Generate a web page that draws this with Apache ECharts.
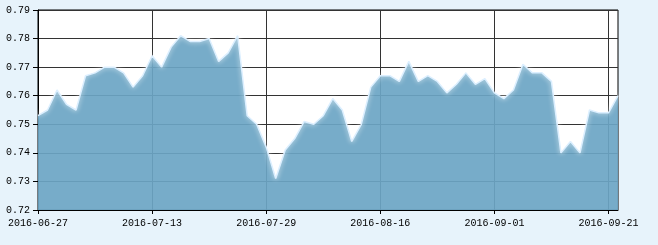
<!DOCTYPE html>
<html>
<head>
<meta charset="utf-8">
<script src="https://cdn.jsdelivr.net/npm/echarts@6/dist/echarts.min.js"></script>
<style>
html,body{margin:0;padding:0;background:#e7f3fb;}
#chart{width:658px;height:245px;}
</style>
</head>
<body>
<div id="chart"></div>
<script>
const dates = [
 '2016-06-27','2016-06-28','2016-06-29','2016-06-30','2016-07-01','2016-07-04','2016-07-05','2016-07-06','2016-07-07','2016-07-08',
 '2016-07-11','2016-07-12','2016-07-13','2016-07-14','2016-07-15','2016-07-18','2016-07-19','2016-07-20','2016-07-21','2016-07-22',
 '2016-07-25','2016-07-26','2016-07-27','2016-07-28','2016-07-29','2016-08-01','2016-08-02','2016-08-03','2016-08-04','2016-08-05',
 '2016-08-08','2016-08-09','2016-08-10','2016-08-11','2016-08-12','2016-08-15','2016-08-16','2016-08-17','2016-08-18','2016-08-19',
 '2016-08-22','2016-08-23','2016-08-24','2016-08-25','2016-08-26','2016-08-29','2016-08-30','2016-08-31','2016-09-01','2016-09-02',
 '2016-09-05','2016-09-06','2016-09-07','2016-09-08','2016-09-09','2016-09-12','2016-09-13','2016-09-14','2016-09-19','2016-09-20',
 '2016-09-21','2016-09-22'
];
const values = [
 0.753,0.755,0.762,0.757,0.755,0.767,0.768,0.770,0.770,0.768,
 0.763,0.767,0.774,0.770,0.777,0.781,0.779,0.779,0.780,0.772,
 0.775,0.781,0.753,0.750,0.742,0.731,0.741,0.745,0.751,0.750,
 0.753,0.759,0.755,0.744,0.750,0.763,0.767,0.767,0.765,0.772,
 0.765,0.767,0.765,0.761,0.764,0.768,0.764,0.766,0.761,0.759,
 0.762,0.771,0.768,0.768,0.765,0.740,0.744,0.740,0.755,0.754,
 0.754,0.760
];
const yMin = 0.72, yMax = 0.79, yStep = 0.01;
const labelEvery = 11;

const chart = echarts.init(document.getElementById('chart'), null, {renderer:'canvas'});
const font = '"Liberation Mono","DejaVu Sans Mono",monospace';
chart.setOption({
  backgroundColor: '#e7f3fb',
  animation: false,
  grid: {left: 38, top: 10, right: 40, bottom: 35, show: true, backgroundColor: '#ffffff', borderColor: '#000', borderWidth: 1},
  xAxis: {
    type: 'category',
    data: dates,
    boundaryGap: false,
    axisLine: {lineStyle: {color: '#000', width: 1}},
    axisTick: {show: true, interval: labelEvery, length: 4, lineStyle: {color: '#000'}},
    axisLabel: {interval: labelEvery, color: '#000', fontFamily: font, fontSize: 10, margin: 8},
    splitLine: {show: true, interval: labelEvery, lineStyle: {color: '#333', width: 1}}
  },
  yAxis: {
    type: 'value',
    min: yMin, max: yMax, interval: yStep,
    axisLine: {show: true, lineStyle: {color: '#000', width: 1}},
    axisTick: {show: true, length: 5, lineStyle: {color: '#000'}},
    axisLabel: {color: '#000', fontFamily: font, fontSize: 10, margin: 8, formatter: v => v.toFixed(2)},
    splitLine: {show: true, lineStyle: {color: '#333', width: 1}}
  },
  series: [{
    type: 'line',
    data: values,
    symbol: 'none',
    lineStyle: {color: '#dcefff', width: 1.5, shadowColor: '#ffffff', shadowBlur: 5},
    areaStyle: {color: '#6ba5c4', opacity: 0.92}
  }]
});
</script>
</body>
</html>
